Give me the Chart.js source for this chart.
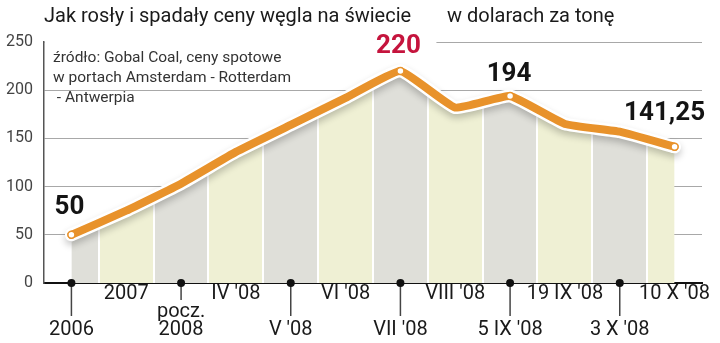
<!DOCTYPE html>
<html>
<head>
<meta charset="utf-8">
<script src="https://cdn.jsdelivr.net/npm/chart.js@4/dist/chart.umd.min.js"></script>
<style>
  html, body { margin: 0; padding: 0; background: #fff; }
  #wrap { width: 720px; height: 343px; }
</style>
</head>
<body>
<div id="wrap"><canvas id="coal_chart"></canvas></div>
<script>
// data (USD per tonne)
const periods = ['2006', '2007', ['pocz.', '2008'], "IV '08", "V '08", "VI '08", "VII '08", "VIII '08", "5 IX '08", "19 IX '08", "3 X '08", "10 X '08"];
const prices = [50, 75, 103, 136, 164, 192, 220, 182, 194, 165, 157, 141.25];
const priceLabels = ['50', '', '', '', '', '', '220', '', '194', '', '', '141,25'];
const yTicks = [0, 50, 100, 150, 200, 250];

const titleText = 'Jak rosły i spadały ceny węgla na świecie';
const unitText = 'w dolarach za tonę';
const sourceLines = ['źródło: Gobal Coal, ceny spotowe', 'w portach Amsterdam - Rotterdam', ' - Antwerpia'];

const ORANGE = '#e8922b';
const RED = '#c5143d';
const stripeColors = ['#dfdfd9', '#eff0d4'];
const FONT = 'Roboto, "Liberation Sans", sans-serif';

let coal_chart;

function stripeFill(context){
    const chart = context.chart;
    const area = chart.chartArea;
    const x = chart.scales.x;
    if(!area || !x) return null;
    const g = chart.ctx.createLinearGradient(area.left, 0, area.right, 0);
    const w = area.right - area.left;
    const pos = px => Math.min(1, Math.max(0, (px - area.left) / w));
    const half = (x.getPixelForValue(1) - x.getPixelForValue(0)) / 2;
    for(let i = 0; i < periods.length; i++){
        const c = stripeColors[i % 2];
        const mid = x.getPixelForValue(i);
        const l = pos(mid - half + 1);
        const r = pos(mid + half - 1);
        g.addColorStop(l, '#ffffff');
        g.addColorStop(l, c);
        g.addColorStop(r, c);
        g.addColorStop(r, '#ffffff');
    }
    return g;
}

// extra drawing: texts, axis dots, shadow under the line
const decorations = {
    id: 'decorations',
    beforeDatasetsDraw(chart){
        const {ctx, chartArea} = chart;
        const y = chart.scales.y;
        const x = chart.scales.x;
        // the top gridline is hidden behind the source note and the "220" label
        ctx.save();
        ctx.fillStyle = '#fff';
        ctx.fillRect(chartArea.left + 1, y.getPixelForValue(250) - 2, x.getPixelForValue(6) + 35 - chartArea.left, 4);
        ctx.restore();
    },
    beforeDatasetDraw(chart, args){
        if(args.index !== 1) return;
        const ctx = chart.ctx;
        ctx.save();
        ctx.shadowColor = 'rgba(0,0,0,0.22)';
        ctx.shadowBlur = 7;
        ctx.shadowOffsetY = 4;
    },
    afterDatasetDraw(chart, args){
        if(args.index !== 1) return;
        chart.ctx.restore();
    },
    afterDraw(chart){
        const {ctx, chartArea} = chart;
        const x = chart.scales.x;
        const y0 = chart.scales.y.getPixelForValue(0);
        ctx.save();

        // title
        ctx.fillStyle = '#1a1a1a';
        ctx.font = '20px ' + FONT;
        ctx.textBaseline = 'middle';
        ctx.textAlign = 'left';
        ctx.fillText(titleText, 44, 17);
        ctx.fillText(unitText, 447, 17);

        // source note
        ctx.fillStyle = '#333';
        ctx.font = '15.5px ' + FONT;
        sourceLines.forEach((t, i) => ctx.fillText(t, 53, 58 + i * 20));

        // x labels, staggered in two rows
        ctx.textAlign = 'center';
        ctx.font = '20px ' + FONT;
        periods.forEach((lab, i) => {
            const px = x.getPixelForValue(i);
            if(i % 2 === 0){
                const twoLines = Array.isArray(lab);
                ctx.strokeStyle = '#444';
                ctx.lineWidth = 1.5;
                ctx.beginPath();
                ctx.moveTo(px, y0);
                ctx.lineTo(px, twoLines ? 300 : 316);
                ctx.stroke();
                ctx.fillStyle = '#111';
                ctx.beginPath();
                ctx.arc(px, y0, 4, 0, Math.PI * 2);
                ctx.fill();
                ctx.fillStyle = '#1a1a1a';
                if(twoLines){
                    ctx.fillText(lab[0], px, 312);
                    ctx.fillText(lab[1], px, 330);
                } else {
                    ctx.fillText(lab, px, 330);
                }
            } else {
                ctx.fillStyle = '#1a1a1a';
                ctx.fillText(lab, px, 294);
            }
        });

        // value labels above the marked points
        const meta = chart.getDatasetMeta(0);
        const offsets = {0: [-2, -27], 6: [-2, -24], 8: [-1, -21], 11: [-10, -33]};
        ctx.font = 'bold 26px ' + FONT;
        priceLabels.forEach((t, i) => {
            if(!t) return;
            const pt = meta.data[i];
            const o = offsets[i];
            ctx.fillStyle = i === 6 ? RED : '#141414';
            ctx.fillText(t, pt.x + o[0], pt.y + o[1]);
        });
        ctx.restore();
    }
};

function initCoalChart(){
    const ctx = document.getElementById('coal_chart').getContext('2d');
    coal_chart = new Chart(ctx, {
        type: 'line',
        data: {
            labels: periods,
            datasets: [{
                // orange line on top
                data: prices,
                borderColor: ORANGE,
                borderWidth: 8,
                tension: 0.12,
                fill: false,
                pointRadius: prices.map((v, i) => priceLabels[i] ? 3.5 : 0),
                pointBackgroundColor: '#fff',
                pointBorderColor: ORANGE,
                pointBorderWidth: 1.5,
                borderCapStyle: 'round',
                borderJoinStyle: 'round',
                order: 0
            }, {
                // white outline + striped area below
                data: prices,
                borderColor: '#fff',
                borderWidth: 13,
                tension: 0.12,
                fill: 'origin',
                backgroundColor: stripeFill,
                pointRadius: 0,
                borderCapStyle: 'round',
                borderJoinStyle: 'round',
                order: 1
            }]
        },
        options: {
            responsive: true,
            maintainAspectRatio: false,
            animation: false,
            layout: { padding: { top: 42, right: 18, left: 0, bottom: 0 } },
            plugins: {
                legend: { display: false },
                tooltip: { enabled: false }
            },
            scales: {
                x: {
                    offset: true,
                    grid: { display: false, drawTicks: false },
                    border: { display: true, color: '#111', width: 2 },
                    ticks: { display: false },
                    afterFit: scale => { scale.height = 60; }
                },
                y: {
                    min: 0,
                    max: 250,
                    afterBuildTicks: scale => { scale.ticks = yTicks.map(v => ({ value: v })); },
                    grid: {
                        color: '#a8a8a8',
                        lineWidth: 1,
                        drawTicks: false
                    },
                    border: { display: true, color: '#555', width: 1.5 },
                    ticks: {
                        padding: 11,
                        color: '#444',
                        font: { family: 'Roboto, "Liberation Sans", sans-serif', size: 16 }
                    },
                    afterFit: scale => { scale.width = 44; }
                }
            }
        },
        plugins: [decorations]
    });
}

initCoalChart();
</script>
</body>
</html>
